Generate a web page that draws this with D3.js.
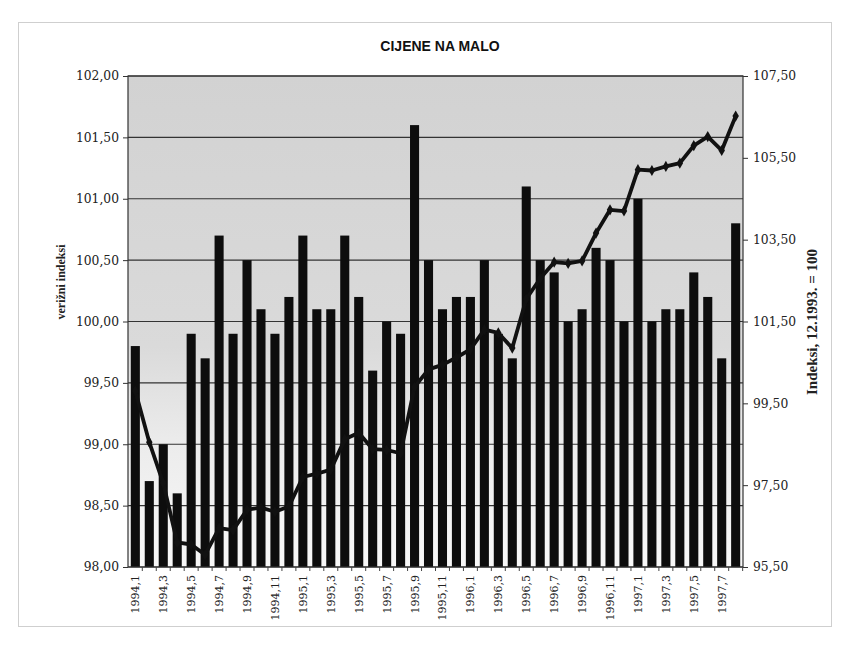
<!DOCTYPE html>
<html><head><meta charset="utf-8">
<script src="https://cdn.jsdelivr.net/npm/d3@7"></script>
<style>body{margin:0;background:#fff}svg{display:block}</style>
</head><body>
<svg id="c" width="848" height="654"></svg>
<script>
const categories = ["1994,1","1994,2","1994,3","1994,4","1994,5","1994,6","1994,7","1994,8","1994,9","1994,10","1994,11","1994,12",
"1995,1","1995,2","1995,3","1995,4","1995,5","1995,6","1995,7","1995,8","1995,9","1995,10","1995,11","1995,12",
"1996,1","1996,2","1996,3","1996,4","1996,5","1996,6","1996,7","1996,8","1996,9","1996,10","1996,11","1996,12",
"1997,1","1997,2","1997,3","1997,4","1997,5","1997,6","1997,7","1997,8"];
const chainIndex = [99.8,98.7,99.0,98.6,99.9,99.7,100.7,99.9,100.5,100.1,99.9,100.2,
100.7,100.1,100.1,100.7,100.2,99.6,100.0,99.9,101.6,100.5,100.1,100.2,
100.2,100.5,99.9,99.7,101.1,100.5,100.4,100.0,100.1,100.6,100.5,100.0,
101.0,100.0,100.1,100.1,100.4,100.2,99.7,100.8];
const baseIndex = [99.80,98.55,97.55,96.10,96.05,95.80,96.45,96.40,96.90,96.95,96.85,96.98,
97.70,97.78,97.88,98.62,98.78,98.38,98.36,98.28,99.90,100.33,100.44,100.62,
100.82,101.30,101.22,100.85,102.05,102.55,102.95,102.92,102.98,103.66,104.23,104.20,
105.21,105.19,105.29,105.37,105.80,106.02,105.68,106.52];
const leftTicks = [98.0,98.5,99.0,99.5,100.0,100.5,101.0,101.5,102.0];
const rightTicks = [95.5,97.5,99.5,101.5,103.5,105.5,107.5];
const xLabels = categories.filter((d,i)=>i%2===0);
const title = "CIJENE NA MALO";
const leftTitle = "verižni indeksi";
const rightTitle = "Indeksi, 12.1993. = 100";

const svg = d3.select("#c");
const L=128, R=743, T=76, B=567;
const fmt = v => d3.format(".2f")(v).replace(".",",");

// outer frame
svg.append("rect").attr("x",18.5).attr("y",22.5).attr("width",813).attr("height",604)
  .attr("fill","none").attr("stroke","#cfcfcf").attr("stroke-width",1);

const defs = svg.append("defs");
const g = defs.append("linearGradient").attr("id","bg").attr("x1",0).attr("x2",0).attr("y1",0).attr("y2",1);
g.append("stop").attr("offset","0%").attr("stop-color","#d2d2d2");
g.append("stop").attr("offset","55%").attr("stop-color","#dadada");
g.append("stop").attr("offset","75%").attr("stop-color","#ececec");
g.append("stop").attr("offset","100%").attr("stop-color","#f8f8f8");

const x = d3.scaleBand().domain(categories).range([L,R]).paddingInner(0.35).paddingOuter(0.2);
const yL = d3.scaleLinear().domain([98,102]).range([B,T]);
const yR = d3.scaleLinear().domain([95.5,107.5]).range([B,T]);

svg.append("rect").attr("x",L).attr("y",T).attr("width",R-L).attr("height",B-T).attr("fill","url(#bg)");

// gridlines
svg.append("g").selectAll("line").data(leftTicks).join("line")
  .attr("x1",L).attr("x2",R).attr("y1",d=>yL(d)).attr("y2",d=>yL(d))
  .attr("stroke","#333").attr("stroke-width",1.2);

// bars
svg.append("g").selectAll("rect").data(chainIndex).join("rect")
  .attr("x",(d,i)=>x(categories[i])).attr("width",x.bandwidth())
  .attr("y",d=>yL(d)).attr("height",d=>B-yL(d)).attr("fill","#0d0d0d");

// frame of plot
svg.append("rect").attr("x",L).attr("y",T).attr("width",R-L).attr("height",B-T)
  .attr("fill","none").attr("stroke","#333").attr("stroke-width",1.2);

// left axis
const ax = svg.append("g").attr("transform",`translate(${L},0)`)
  .call(d3.axisLeft(yL).tickValues(leftTicks).tickFormat(fmt).tickSize(5).tickPadding(4));
ax.select(".domain").remove();
ax.selectAll("line").attr("stroke","#333");
ax.selectAll("text").attr("font-family","DejaVu Serif").attr("font-size",12.3).attr("fill","#222");

// right axis
const ar = svg.append("g").attr("transform",`translate(${R},0)`)
  .call(d3.axisRight(yR).tickValues(rightTicks).tickFormat(fmt).tickSize(5).tickPadding(5));
ar.select(".domain").remove();
ar.selectAll("line").attr("stroke","#333");
ar.selectAll("text").attr("font-family","DejaVu Serif").attr("font-size",12.3).attr("fill","#222");

// x axis ticks at band boundaries
const step = x.step();
svg.append("g").selectAll("line").data(categories).join("line")
  .attr("x1",(d)=>x(d)+x.bandwidth()/2+step/2).attr("x2",(d)=>x(d)+x.bandwidth()/2+step/2)
  .attr("y1",B).attr("y2",B+4).attr("stroke","#444");
// x labels
svg.append("g").selectAll("text").data(xLabels).join("text")
  .attr("transform",d=>`translate(${x(d)+x.bandwidth()/2+4},${B+8}) rotate(-90)`)
  .attr("text-anchor","end").attr("font-family","DejaVu Serif").attr("font-size",11).attr("fill","#222")
  .text(d=>d);

// line
const line = d3.line().x((d,i)=>x(categories[i])+x.bandwidth()/2).y(d=>yR(d));
svg.append("path").datum(baseIndex).attr("d",line).attr("fill","none")
  .attr("stroke","#111").attr("stroke-width",3.8).attr("stroke-linejoin","round");
svg.append("g").selectAll("path").data(baseIndex).join("path")
  .attr("d",d3.symbol(d3.symbolDiamond,36))
  .attr("transform",(d,i)=>`translate(${x(categories[i])+x.bandwidth()/2},${yR(d)})`)
  .attr("fill","#111");

// titles
svg.append("text").attr("x",440).attr("y",51).attr("text-anchor","middle")
  .attr("font-family","Liberation Sans").attr("font-weight","bold").attr("font-size",14).attr("fill","#111").text(title);
svg.append("text").attr("transform","translate(65,282) rotate(-90)").attr("text-anchor","middle")
  .attr("font-family","Liberation Serif").attr("font-weight","bold").attr("font-size",12).attr("fill","#222").text(leftTitle);
svg.append("text").attr("transform","translate(817,322) rotate(-90)").attr("text-anchor","middle")
  .attr("font-family","Liberation Serif").attr("font-weight","bold").attr("font-size",15).attr("fill","#222").text(rightTitle);
</script>
</body></html>
